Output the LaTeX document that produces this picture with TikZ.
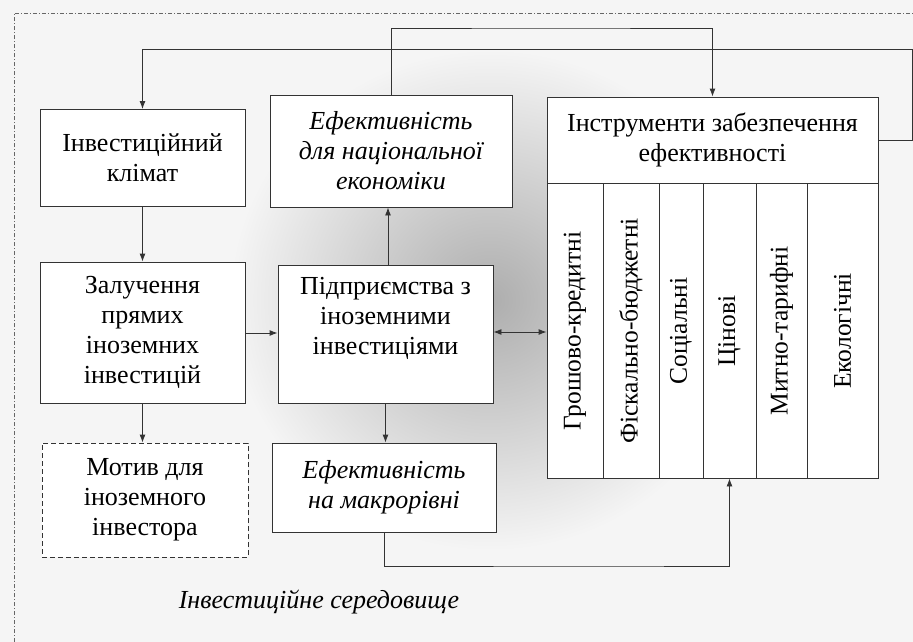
\documentclass[tikz,border=0pt]{standalone}
\usepackage{fontspec}
\setmainfont{Liberation Serif}
\usetikzlibrary{arrows.meta}
\begin{document}
\begin{tikzpicture}[x=1pt,y=-1pt,
  ln/.style={line width=0.9pt,draw=black!80},
  box/.style={ln,fill=white,align=center,inner sep=0pt,font=\fontsize{26}{30}\selectfont},
  dbox/.style={box,dashed,dash pattern=on 5pt off 3pt},
  txt/.style={align=center,inner sep=0pt,font=\fontsize{26}{30}\selectfont},
  col/.style={ln,fill=white,inner sep=0pt,minimum width=#1,minimum height=295pt},
  coltxt/.style={rotate=90,inner sep=0pt,font=\fontsize{25.5}{30}\selectfont},
  arr/.style={ln,-{Latex[length=8pt,width=6pt]}},
  darr/.style={ln,{Latex[length=8pt,width=6pt]}-{Latex[length=8pt,width=6pt]}},
  frame/.style={line width=0.7pt,draw=black!60,dash pattern=on 4pt off 2pt on 1pt off 2pt}
]
\useasboundingbox (0,0) rectangle (913,642);
\fill[black!4] (0,0) rectangle (913,642);
\shade[inner color=black!32,outer color=black!4] (490,300) ellipse (260 and 250);
\draw[frame] (14,642) -- (14,13) -- (913,13);

% boxes
\node[box,minimum width=205pt,minimum height=97pt] (klimat) at (142.5,158) {Інвестиційний\\клімат};
\node[box,minimum width=242pt,minimum height=112pt] (efnat) at (391,151) {\itshape Ефективність\\\itshape для національної\\\itshape економіки};
\node[box,minimum width=331pt,minimum height=86pt] (instr) at (712.5,140) {Інструменти забезпечення\\ефективності};
\node[box,minimum width=205pt,minimum height=141pt] (zal) at (142.5,332.5) {Залучення\\прямих\\іноземних\\інвестицій};
\node[box,minimum width=215pt,minimum height=138pt] (pidp) at (385.5,334) {};
\node[txt] (pidpT) at (385.5,318) {Підприємства з\\іноземними\\інвестиціями};
\node[box,minimum width=224pt,minimum height=89pt] (efmac) at (384,487.5) {\itshape Ефективність\\\itshape на макрорівні};
\node[dbox,minimum width=206pt,minimum height=114pt] (motiv) at (145,500) {Мотив для\\іноземного\\інвестора};

% columns
\node[col=56pt] (c1) at (575,330.5) {};
\node[col=56pt] (c2) at (631,330.5) {};
\node[col=44pt] (c3) at (681,330.5) {};
\node[col=53pt] (c4) at (729.5,330.5) {};
\node[col=51pt] (c5) at (781.5,330.5) {};
\node[col=71pt] (c6) at (842.5,330.5) {};
\node[coltxt] (t1) at (575,331) {Грошово-кредитні};
\node[coltxt] (t2) at (631,331) {Фіскально-бюджетні};
\node[coltxt] (t3) at (681,331) {Соціальні};
\node[coltxt] (t4) at (729.5,331) {Цінові};
\node[coltxt] (t5) at (781.5,331) {Митно-тарифні};
\node[coltxt] (t6) at (842.5,331) {Екологічні};

\node[txt,font=\fontsize{26}{30}\selectfont\itshape] (env) at (319,602) {Інвестиційне середовище};

% connectors
\coordinate (top1) at (550,28);
\coordinate (r1) at (912,49);
\coordinate (b1) at (600,566);
\draw[arr] (efnat.north) |- (top1) -| (instr.north);
\draw[arr] (instr.east) -| (r1) -| (klimat.north);
\draw[arr] (klimat.south) -- (zal.north);
\draw[arr] (zal.south) -- (motiv.north -| zal.south);
\draw[arr] (zal.east |- 0,333) -- (pidp.west |- 0,333);
\draw[darr] (pidp.east |- 0,332) -- (c1.west |- 0,332);
\draw[arr] (pidp.north -| 388,0) -- (efnat.south -| 388,0);
\draw[arr] (pidp.south) -- (efmac.north -| pidp.south);
\draw[arr] (efmac.south) |- (b1) -| (c4.south);
\end{tikzpicture}
\end{document}
